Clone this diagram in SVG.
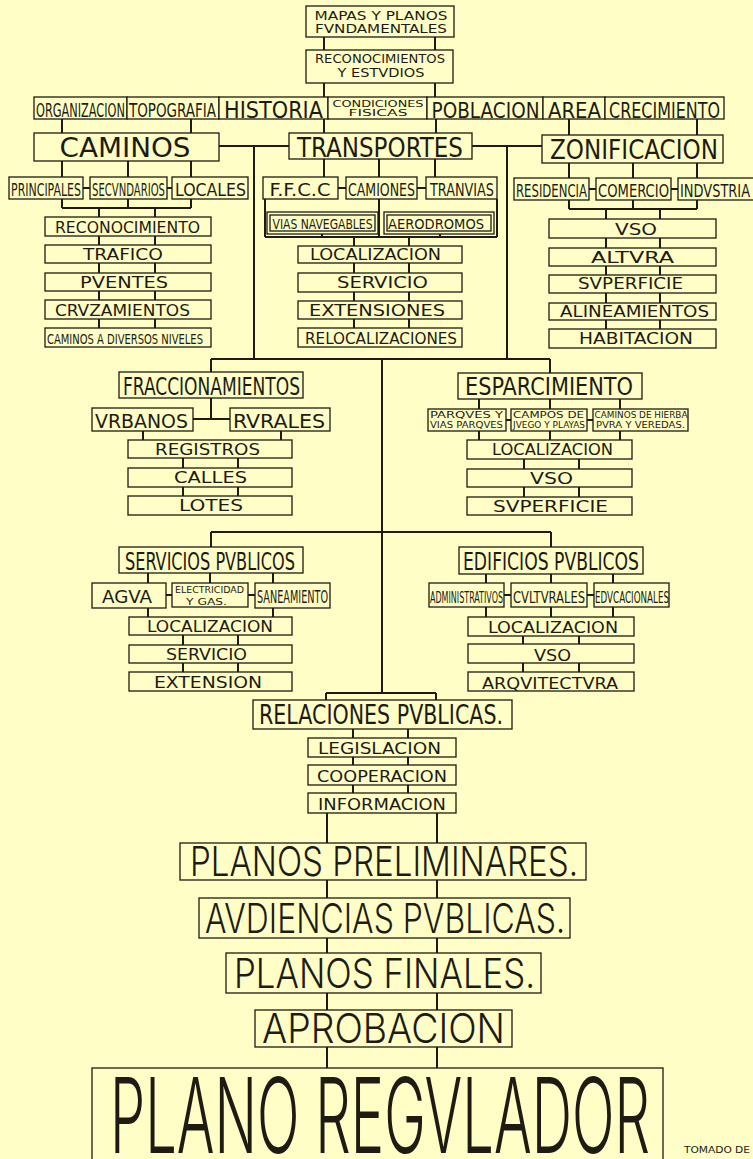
<svg xmlns="http://www.w3.org/2000/svg" width="753" height="1159" viewBox="0 0 753 1159">
<style>
.bg{fill:#FFFEC6}
.bx{fill:#FFFEC6;stroke:#1d1b12;stroke-width:1.3}
.ln{stroke:#1d1b12;stroke-width:2;fill:none}
text{font-family:"DejaVu Sans Condensed","DejaVu Sans",sans-serif;fill:#1d1b12;text-anchor:middle}
.big{font-family:Inter,"DejaVu Sans Condensed",sans-serif;font-weight:300}
</style>
<rect class="bg" x="0" y="0" width="753" height="1159"/>
<g id="connectors">
<path class="ln" d="M324,37V50M435,37V50M324,83V97M435,83V97"/>
<path class="ln" d="M62,119V133M191,119V133M324,119V133M436,119V133M569,119V135M697,119V135"/>
<path class="ln" d="M219,146H289M472,146H542M254,146V359M507,146V359"/>
<path class="ln" d="M62,161V208M128,161V208M191,161V208M62,208H191M99,208V328M155,208V328M83,188H90M167,188H172"/>
<path class="ln" d="M324,159V177M379,159V237M435,159V177M265,199V237M497,199V237M265,237H497M322,233V237M440,234V237M354,237V328M409,237V328M338,188H346M417,188H426"/>
<path class="ln" d="M569,163V209M633,163V209M697,163V209M569,209H697M606,209V329M660,209V329M589,189H596M671,189H678"/>
<path class="ln" d="M211,359H550M211,359V372M550,359V373M382,359V693"/>
<path class="ln" d="M211,398V419M193,419H230M143,431V440M281,431V440M183,458V496M238,458V496"/>
<path class="ln" d="M479,399V440M550,399V440M620,399V440M524,459V497M579,459V497M506,420H511M587,420H593"/>
<path class="ln" d="M211,532H551M211,532V547M551,532V547"/>
<path class="ln" d="M148,573V617M210,573V583M273,573V617M183,635V672M238,635V672M166,595H172M248,595H255"/>
<path class="ln" d="M486,574V617M551,574V617M613,574V617M523,636V672M579,636V672M504,595H511M587,595H594"/>
<path class="ln" d="M326,693H436M326,693V700M436,693V700M353,729V793M408,729V793M327,813V1068M437,813V1068"/>
</g>
<g id="n-mapas"><rect class="bx" x="306" y="6" width="148" height="31"/><text x="381" y="19.5" font-size="11.5" textLength="133" lengthAdjust="spacingAndGlyphs">MAPAS Y PLANOS</text><text x="381" y="33" font-size="11.5" textLength="132" lengthAdjust="spacingAndGlyphs">FVNDAMENTALES</text></g>
<g id="n-recon"><rect class="bx" x="306" y="50" width="147" height="33"/><text x="380" y="63" font-size="11.5" textLength="130" lengthAdjust="spacingAndGlyphs">RECONOCIMIENTOS</text><text x="381" y="77" font-size="11.5" textLength="87" lengthAdjust="spacingAndGlyphs">Y ESTVDIOS</text></g>
<g id="n-organizacion"><rect class="bx" x="34" y="97" width="93" height="22"/><text transform="translate(80.5,117) scale(1,1.77)" font-size="11.3" textLength="89" lengthAdjust="spacingAndGlyphs">ORGANIZACION</text></g>
<g id="n-topografia"><rect class="bx" x="127" y="97" width="92" height="22"/><text transform="translate(172.5,117) scale(1,1.49)" font-size="13.4" textLength="87" lengthAdjust="spacingAndGlyphs">TOPOGRAFIA</text></g>
<g id="n-historia"><rect class="bx" x="219" y="97" width="109" height="22"/><text transform="translate(273.5,117.5) scale(1,1.1)" font-size="20.8" textLength="99" lengthAdjust="spacingAndGlyphs">HISTORIA</text></g>
<g id="n-condiciones"><rect class="bx" x="328" y="97" width="99" height="22"/><text x="378" y="107" font-size="9" textLength="91" lengthAdjust="spacingAndGlyphs">CONDICIONES</text><text x="378" y="116" font-size="9" textLength="59" lengthAdjust="spacingAndGlyphs">FISICAS</text></g>
<g id="n-poblacion"><rect class="bx" x="427" y="97" width="116" height="22"/><text transform="translate(485.5,117.5) scale(1,1.19)" font-size="18.5" textLength="108" lengthAdjust="spacingAndGlyphs">POBLACION</text></g>
<g id="n-area"><rect class="bx" x="543" y="97" width="62" height="22"/><text transform="translate(574.5,117.5) scale(1,1.12)" font-size="19.6" textLength="53" lengthAdjust="spacingAndGlyphs">AREA</text></g>
<g id="n-crecimiento"><rect class="bx" x="605" y="97" width="119" height="22"/><text transform="translate(664.5,117.5) scale(1,1.375)" font-size="16" textLength="111" lengthAdjust="spacingAndGlyphs">CRECIMIENTO</text></g>
<g id="n-caminos"><rect class="bx" x="34" y="133" width="185" height="28"/><text x="125" y="157" font-size="26" textLength="131" lengthAdjust="spacingAndGlyphs">CAMINOS</text></g>
<g id="n-transportes"><rect class="bx" x="289" y="133" width="183" height="26"/><text transform="translate(380,156.5) scale(1,1.15)" font-size="22.6" textLength="166" lengthAdjust="spacingAndGlyphs">TRANSPORTES</text></g>
<g id="n-zonificacion"><rect class="bx" x="542" y="135" width="181" height="28"/><text transform="translate(634,159) scale(1,1.13)" font-size="23" textLength="168" lengthAdjust="spacingAndGlyphs">ZONIFICACION</text></g>
<g id="n-principales"><rect class="bx" x="9" y="177" width="74" height="22"/><text transform="translate(46,196) scale(1,1.65)" font-size="10.9" textLength="70" lengthAdjust="spacingAndGlyphs">PRINCIPALES</text></g>
<g id="n-secundarios"><rect class="bx" x="90" y="177" width="77" height="22"/><text transform="translate(128.5,196) scale(1,1.79)" font-size="10" textLength="73" lengthAdjust="spacingAndGlyphs">SECVNDARIOS</text></g>
<g id="n-locales"><rect class="bx" x="172" y="177" width="76" height="22"/><text transform="translate(210.5,196) scale(1,1.15)" font-size="15.6" textLength="71" lengthAdjust="spacingAndGlyphs">LOCALES</text></g>
<g id="n-ffcc"><rect class="bx" x="263" y="177" width="75" height="22"/><text x="300" y="196" font-size="17" textLength="61" lengthAdjust="spacingAndGlyphs">F.F.C.C</text></g>
<g id="n-camiones"><rect class="bx" x="346" y="177" width="71" height="22"/><text transform="translate(381.5,196) scale(1,1.44)" font-size="12.5" textLength="67" lengthAdjust="spacingAndGlyphs">CAMIONES</text></g>
<g id="n-tranvias"><rect class="bx" x="426" y="177" width="71" height="22"/><text transform="translate(462,196) scale(1,1.42)" font-size="12.7" textLength="64" lengthAdjust="spacingAndGlyphs">TRANVIAS</text></g>
<g id="n-viasnavegables"><rect class="bx" x="267" y="212" width="111" height="22"/><rect class="bx" x="270" y="215" width="105" height="16"/><text transform="translate(322.5,229) scale(1,1.31)" font-size="10.7" textLength="100" lengthAdjust="spacingAndGlyphs">VIAS NAVEGABLES</text></g>
<g id="n-aerodromos"><rect class="bx" x="384" y="212" width="110" height="22"/><rect class="bx" x="387" y="215" width="104" height="16"/><text transform="translate(436,229) scale(1,1.07)" font-size="13.1" textLength="96" lengthAdjust="spacingAndGlyphs">AERODROMOS</text></g>
<g id="n-residencia"><rect class="bx" x="514" y="178" width="75" height="22"/><text transform="translate(551.5,197) scale(1,1.54)" font-size="11.7" textLength="71" lengthAdjust="spacingAndGlyphs">RESIDENCIA</text></g>
<g id="n-comercio"><rect class="bx" x="596" y="178" width="75" height="22"/><text transform="translate(633.5,197) scale(1,1.38)" font-size="13" textLength="71" lengthAdjust="spacingAndGlyphs">COMERCIO</text></g>
<g id="n-industria"><rect class="bx" x="678" y="178" width="77" height="22"/><text transform="translate(715,197) scale(1,1.37)" font-size="13" textLength="70" lengthAdjust="spacingAndGlyphs">INDVSTRIA</text></g>
<g id="n-c-reconocimiento"><rect class="bx" x="45" y="217" width="166" height="19"/><text x="127.5" y="233" font-size="15" textLength="145" lengthAdjust="spacingAndGlyphs">RECONOCIMIENTO</text></g>
<g id="n-c-trafico"><rect class="bx" x="45" y="245" width="166" height="18"/><text x="123" y="260" font-size="15" textLength="80" lengthAdjust="spacingAndGlyphs">TRAFICO</text></g>
<g id="n-c-puentes"><rect class="bx" x="45" y="273" width="166" height="18"/><text x="124" y="288" font-size="15" textLength="88" lengthAdjust="spacingAndGlyphs">PVENTES</text></g>
<g id="n-c-cruzamientos"><rect class="bx" x="45" y="300" width="166" height="19"/><text x="122.5" y="316" font-size="15" textLength="135" lengthAdjust="spacingAndGlyphs">CRVZAMIENTOS</text></g>
<g id="n-c-niveles"><rect class="bx" x="45" y="328" width="166" height="19"/><text transform="translate(125,344) scale(1,1.4)" font-size="10" textLength="156" lengthAdjust="spacingAndGlyphs">CAMINOS A DIVERSOS NIVELES</text></g>
<g id="n-t-localizacion"><rect class="bx" x="298" y="246" width="164" height="17"/><text x="375.5" y="260" font-size="15" textLength="131" lengthAdjust="spacingAndGlyphs">LOCALIZACION</text></g>
<g id="n-t-servicio"><rect class="bx" x="298" y="273" width="164" height="19"/><text x="382.5" y="288" font-size="15" textLength="91" lengthAdjust="spacingAndGlyphs">SERVICIO</text></g>
<g id="n-t-extensiones"><rect class="bx" x="298" y="301" width="164" height="18"/><text x="377" y="316" font-size="15" textLength="136" lengthAdjust="spacingAndGlyphs">EXTENSIONES</text></g>
<g id="n-t-relocalizaciones"><rect class="bx" x="298" y="328" width="164" height="19"/><text x="381" y="344" font-size="15" textLength="152" lengthAdjust="spacingAndGlyphs">RELOCALIZACIONES</text></g>
<g id="n-z-uso"><rect class="bx" x="549" y="219" width="167" height="19"/><text x="636" y="235" font-size="15" textLength="42" lengthAdjust="spacingAndGlyphs">VSO</text></g>
<g id="n-z-altura"><rect class="bx" x="549" y="248" width="167" height="18"/><text x="632.5" y="263" font-size="15" textLength="83" lengthAdjust="spacingAndGlyphs">ALTVRA</text></g>
<g id="n-z-superficie"><rect class="bx" x="549" y="275" width="167" height="18"/><text x="630.5" y="289" font-size="15" textLength="105" lengthAdjust="spacingAndGlyphs">SVPERFICIE</text></g>
<g id="n-z-alineamientos"><rect class="bx" x="549" y="303" width="167" height="17"/><text x="634.5" y="317" font-size="15" textLength="149" lengthAdjust="spacingAndGlyphs">ALINEAMIENTOS</text></g>
<g id="n-z-habitacion"><rect class="bx" x="549" y="329" width="167" height="19"/><text x="636" y="344" font-size="15" textLength="114" lengthAdjust="spacingAndGlyphs">HABITACION</text></g>
<g id="n-fraccionamientos"><rect class="bx" x="119" y="372" width="184" height="26"/><text transform="translate(211.5,395) scale(1,1.41)" font-size="17" textLength="177" lengthAdjust="spacingAndGlyphs">FRACCIONAMIENTOS</text></g>
<g id="n-urbanos"><rect class="bx" x="92" y="408" width="101" height="23"/><text transform="translate(141.5,428) scale(1,1.06)" font-size="18.9" textLength="93" lengthAdjust="spacingAndGlyphs">VRBANOS</text></g>
<g id="n-rurales"><rect class="bx" x="230" y="408" width="100" height="23"/><text x="279" y="428" font-size="20" textLength="92" lengthAdjust="spacingAndGlyphs">RVRALES</text></g>
<g id="n-f-registros"><rect class="bx" x="128" y="440" width="164" height="18"/><text x="207.5" y="455" font-size="15" textLength="105" lengthAdjust="spacingAndGlyphs">REGISTROS</text></g>
<g id="n-f-calles"><rect class="bx" x="128" y="468" width="164" height="19"/><text x="210.5" y="483" font-size="15" textLength="73" lengthAdjust="spacingAndGlyphs">CALLES</text></g>
<g id="n-f-lotes"><rect class="bx" x="128" y="496" width="164" height="19"/><text x="211" y="511" font-size="15" textLength="64" lengthAdjust="spacingAndGlyphs">LOTES</text></g>
<g id="n-esparcimiento"><rect class="bx" x="458" y="373" width="184" height="26"/><text transform="translate(549,395) scale(1,1.17)" font-size="20.5" textLength="168" lengthAdjust="spacingAndGlyphs">ESPARCIMIENTO</text></g>
<g id="n-parques"><rect class="bx" x="428" y="409" width="78" height="22"/><text x="466.5" y="418" font-size="9" textLength="73" lengthAdjust="spacingAndGlyphs">PARQVES Y</text><text x="466.5" y="428" font-size="9" textLength="73" lengthAdjust="spacingAndGlyphs">VIAS PARQVES</text></g>
<g id="n-campos"><rect class="bx" x="511" y="409" width="76" height="22"/><text x="548.5" y="418" font-size="9" textLength="71" lengthAdjust="spacingAndGlyphs">CAMPOS DE</text><text x="549" y="428" font-size="8.7" textLength="72" lengthAdjust="spacingAndGlyphs">JVEGO Y PLAYAS</text></g>
<g id="n-hierba"><rect class="bx" x="593" y="409" width="95" height="22"/><text x="641" y="418" font-size="8.5" textLength="93" lengthAdjust="spacingAndGlyphs">CAMINOS DE HIERBA</text><text x="640.5" y="428" font-size="8.5" textLength="89" lengthAdjust="spacingAndGlyphs">PVRA Y VEREDAS.</text></g>
<g id="n-e-localizacion"><rect class="bx" x="467" y="440" width="165" height="19"/><text x="552.5" y="455" font-size="15" textLength="121" lengthAdjust="spacingAndGlyphs">LOCALIZACION</text></g>
<g id="n-e-uso"><rect class="bx" x="467" y="469" width="165" height="18"/><text x="551.5" y="484" font-size="15" textLength="43" lengthAdjust="spacingAndGlyphs">VSO</text></g>
<g id="n-e-superficie"><rect class="bx" x="467" y="497" width="165" height="18"/><text x="550.5" y="512" font-size="15" textLength="115" lengthAdjust="spacingAndGlyphs">SVPERFICIE</text></g>
<g id="n-servicios"><rect class="bx" x="119" y="547" width="184" height="26"/><text transform="translate(210,570) scale(1,1.5)" font-size="16" textLength="170" lengthAdjust="spacingAndGlyphs">SERVICIOS PVBLICOS</text></g>
<g id="n-agua"><rect class="bx" x="92" y="583" width="74" height="25"/><text x="127" y="603" font-size="17.7" textLength="50" lengthAdjust="spacingAndGlyphs">AGVA</text></g>
<g id="n-electricidad"><rect class="bx" x="172" y="583" width="76" height="24"/><text x="209.5" y="593" font-size="8.5" textLength="69" lengthAdjust="spacingAndGlyphs">ELECTRICIDAD</text><text x="206.5" y="605" font-size="8.5" textLength="41" lengthAdjust="spacingAndGlyphs">Y GAS.</text></g>
<g id="n-saneamiento"><rect class="bx" x="255" y="583" width="75" height="25"/><text transform="translate(292.5,603) scale(1,1.75)" font-size="9.7" textLength="71" lengthAdjust="spacingAndGlyphs">SANEAMIENTO</text></g>
<g id="n-s-localizacion"><rect class="bx" x="129" y="617" width="163" height="18"/><text x="210" y="632" font-size="15" textLength="126" lengthAdjust="spacingAndGlyphs">LOCALIZACION</text></g>
<g id="n-s-servicio"><rect class="bx" x="129" y="645" width="163" height="18"/><text x="206.5" y="660" font-size="15" textLength="81" lengthAdjust="spacingAndGlyphs">SERVICIO</text></g>
<g id="n-s-extension"><rect class="bx" x="129" y="672" width="163" height="19"/><text x="208" y="688" font-size="15" textLength="108" lengthAdjust="spacingAndGlyphs">EXTENSION</text></g>
<g id="n-edificios"><rect class="bx" x="459" y="547" width="184" height="27"/><text transform="translate(551,570) scale(1,1.4)" font-size="17.2" textLength="176" lengthAdjust="spacingAndGlyphs">EDIFICIOS PVBLICOS</text></g>
<g id="n-administrativos"><rect class="bx" x="429" y="583" width="75" height="24"/><text transform="translate(466.5,603) scale(1,2.04)" font-size="7.85" textLength="73" lengthAdjust="spacingAndGlyphs">ADMINISTRATIVOS</text></g>
<g id="n-culturales"><rect class="bx" x="511" y="583" width="76" height="24"/><text transform="translate(549,603) scale(1,1.43)" font-size="11.2" textLength="72" lengthAdjust="spacingAndGlyphs">CVLTVRALES</text></g>
<g id="n-educacionales"><rect class="bx" x="594" y="583" width="75" height="24"/><text transform="translate(632,603) scale(1,1.84)" font-size="8.7" textLength="74" lengthAdjust="spacingAndGlyphs">EDVCACIONALES</text></g>
<g id="n-d-localizacion"><rect class="bx" x="468" y="617" width="166" height="19"/><text x="553" y="633" font-size="15" textLength="130" lengthAdjust="spacingAndGlyphs">LOCALIZACION</text></g>
<g id="n-d-uso"><rect class="bx" x="468" y="644" width="166" height="19"/><text x="552.5" y="661" font-size="15" textLength="37" lengthAdjust="spacingAndGlyphs">VSO</text></g>
<g id="n-d-arquitectura"><rect class="bx" x="468" y="672" width="166" height="19"/><text x="550" y="689" font-size="15" textLength="136" lengthAdjust="spacingAndGlyphs">ARQVITECTVRA</text></g>
<g id="n-relaciones"><rect class="bx" x="253" y="700" width="259" height="29"/><text transform="translate(381,724) scale(1,1.27)" font-size="20.4" textLength="244" lengthAdjust="spacingAndGlyphs">RELACIONES PVBLICAS.</text></g>
<g id="n-legislacion"><rect class="bx" x="308" y="738" width="148" height="19"/><text x="379.5" y="754" font-size="15" textLength="123" lengthAdjust="spacingAndGlyphs">LEGISLACION</text></g>
<g id="n-cooperacion"><rect class="bx" x="308" y="765" width="148" height="20"/><text x="382" y="782" font-size="15" textLength="130" lengthAdjust="spacingAndGlyphs">COOPERACION</text></g>
<g id="n-informacion"><rect class="bx" x="308" y="793" width="148" height="20"/><text x="382" y="810" font-size="15" textLength="128" lengthAdjust="spacingAndGlyphs">INFORMACION</text></g>
<g id="n-preliminares"><rect class="bx" x="180" y="843" width="406" height="37"/><text class="big" transform="translate(384,876) scale(1,1.27)" font-size="32.4" textLength="388" lengthAdjust="spacingAndGlyphs">PLANOS PRELIMINARES.</text></g>
<g id="n-audiencias"><rect class="bx" x="199" y="898" width="371" height="40"/><text class="big" transform="translate(385,933) scale(1,1.33)" font-size="30.8" textLength="360" lengthAdjust="spacingAndGlyphs">AVDIENCIAS PVBLICAS.</text></g>
<g id="n-finales"><rect class="bx" x="226" y="953" width="315" height="40"/><text class="big" transform="translate(384.5,988) scale(1,1.2)" font-size="34.3" textLength="301" lengthAdjust="spacingAndGlyphs">PLANOS FINALES.</text></g>
<g id="n-aprobacion"><rect class="bx" x="255" y="1010" width="257" height="37"/><text class="big" transform="translate(383.5,1043) scale(1,1.13)" font-size="36.4" textLength="243" lengthAdjust="spacingAndGlyphs">APROBACION</text></g>
<g id="n-plano-regulador"><rect class="bx" x="92" y="1068" width="571" height="100"/><text class="big" transform="translate(380,1153) scale(1,1.94)" font-size="54" textLength="540" lengthAdjust="spacingAndGlyphs">PLANO REGVLADOR</text></g>
<g id="credit"><text x="684" y="1153" font-size="8" style="text-anchor:start" textLength="66" lengthAdjust="spacingAndGlyphs">TOMADO DE</text></g>
</svg>
